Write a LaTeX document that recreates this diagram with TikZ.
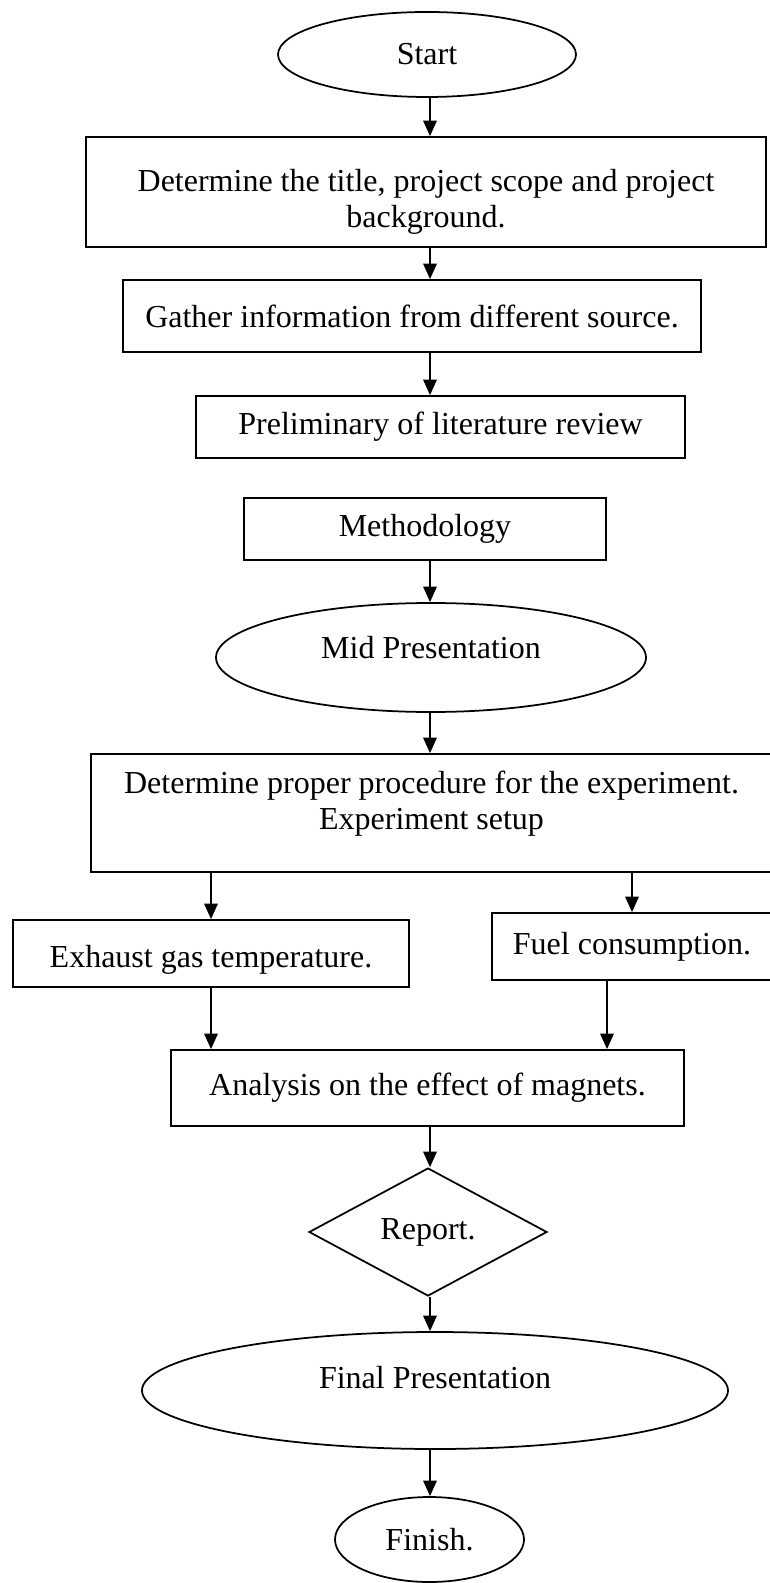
\documentclass[tikz,border=0pt]{standalone}
\usepackage{fontspec}
\setmainfont{Liberation Serif}
\usetikzlibrary{shapes.geometric,arrows.meta}
\begin{document}
\begin{tikzpicture}
 [x=0.4pt,y=-0.4pt,line width=0.7pt,
  every node/.style={draw,inner sep=0pt,align=center,font=\fontsize{12.8}{14.4}\selectfont},
  proc/.style={rectangle},
  term/.style={ellipse},
  dec/.style={diamond},
  arr/.style={-{Triangle[length=6.2pt,width=5.4pt]}}]
  \useasboundingbox (0,0) rectangle (769,1583);
  \coordinate (axis) at (430,0);

  \node (start)[term,minimum width=119.2pt,minimum height=34pt] at (427,54.5) {Start};
  \node (title)[proc,text height=31pt,minimum width=272pt,minimum height=44pt] at (426,192) {Determine the title, project scope and project\\background.};
  \node (gather)[proc,minimum width=231.2pt,minimum height=28.8pt] at (412,316) {Gather information from different source.};
  \node (prelim)[proc,minimum width=195.6pt,minimum height=24.8pt] at (440.5,427) {Preliminary of literature review};
  \node (meth)[proc,minimum width=144.8pt,minimum height=24.8pt] at (425,529) {Methodology};
  \node (mid)[term,text depth=8.4pt,minimum width=172pt,minimum height=43.6pt] at (431,657.5) {Mid Presentation};
  \node (setup)[proc,text depth=10.3pt,minimum width=272.4pt,minimum height=47.2pt] at (431.5,813) {Determine proper procedure for the experiment.\\Experiment setup};
  \node (exh)[proc,text height=14pt,minimum width=158.4pt,minimum height=26.8pt] at (211,953.5) {Exhaust gas temperature.};
  \node (fuel)[proc,minimum width=112pt,minimum height=26.8pt] at (632,946.5) {Fuel consumption.};
  \node (ana)[proc,minimum width=205.2pt,minimum height=30.4pt] at (427.5,1088) {Analysis on the effect of magnets.};
  \node (report)[dec,minimum width=95.2pt,minimum height=51.2pt] at (428,1232) {Report.};
  \node (final)[term,text depth=10.8pt,minimum width=234.4pt,minimum height=46.8pt] at (435,1390.5) {Final Presentation};
  \node (finish)[term,minimum width=75.6pt,minimum height=34pt] at (429.5,1539.5) {Finish.};

  \foreach \from/\to in {start/title,title/gather,gather/prelim,meth/mid,mid/setup,ana/report,report/final,final/finish}
    \draw[arr] (\from.south -| axis) -- (\to.north -| axis);

  \foreach \to in {exh,fuel}
    \draw[arr] (setup.south -| \to.north) -- (\to.north);
  \draw[arr] (exh.south) -- (exh.south |- ana.north);
  \draw[arr] ([xshift=-10pt]fuel.south) -- ([xshift=-10pt]fuel.south |- ana.north);

\end{tikzpicture}
\end{document}
